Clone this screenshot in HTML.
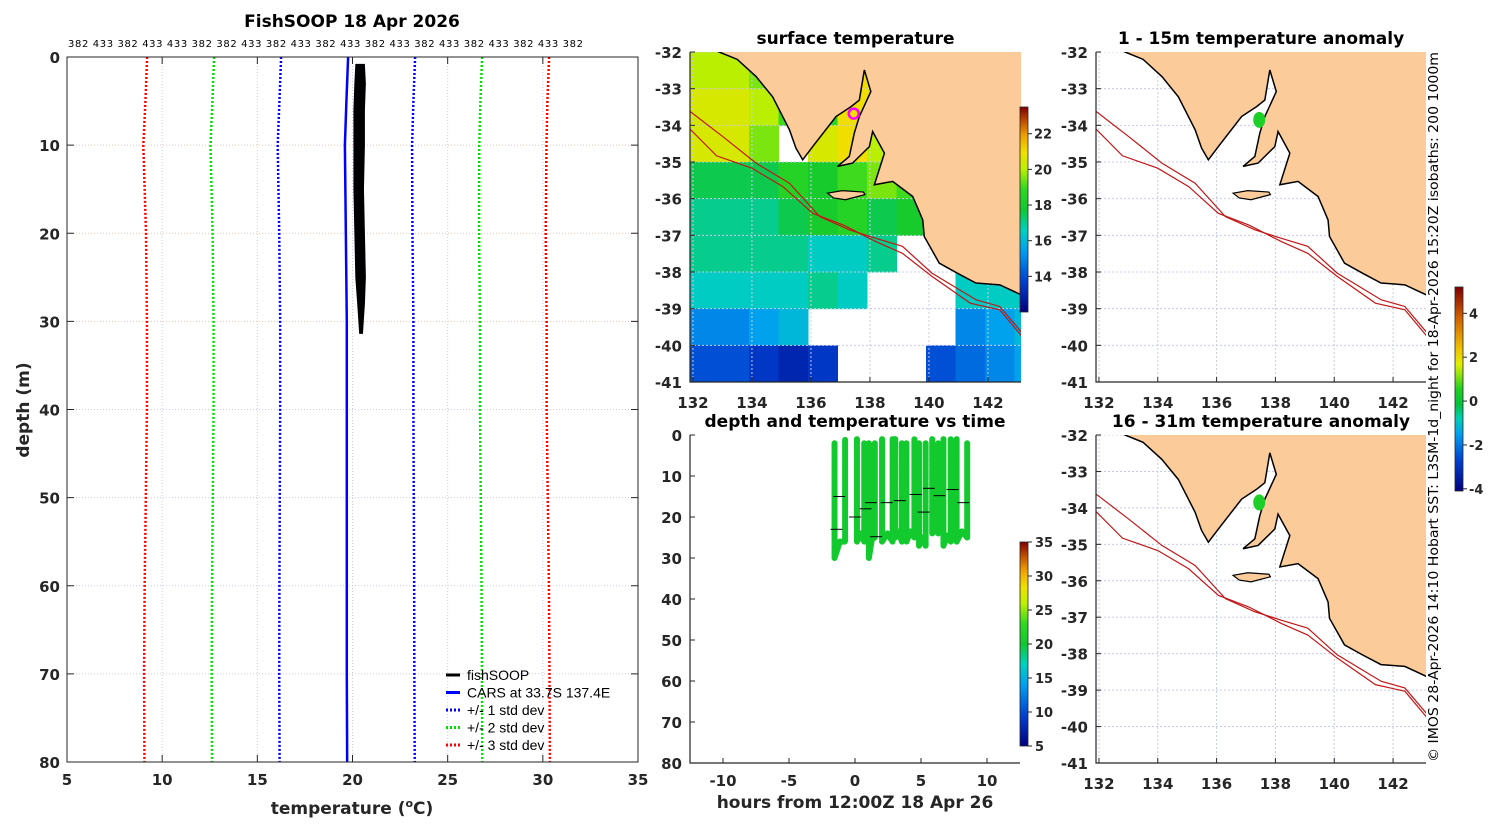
<!DOCTYPE html>
<html><head><meta charset="utf-8"><style>
body{margin:0;background:#fff;}
svg text{font-family:"DejaVu Sans","Liberation Sans",sans-serif;fill:#262626;}
.tk{font-size:15px;font-weight:bold;}
.ttl{font-size:17px;font-weight:bold;fill:#000;}
</style></head><body>
<svg id="fig" xmlns="http://www.w3.org/2000/svg" width="1500" height="820" viewBox="0 0 1500 820">
<defs>
<clipPath id="cpSST"><rect x="690" y="52" width="331" height="330"/></clipPath>
<clipPath id="cpA1"><rect x="1096" y="52" width="330" height="330"/></clipPath>
<clipPath id="cpA2"><rect x="1096" y="435" width="330" height="328"/></clipPath>
<clipPath id="cpL"><rect x="67" y="57" width="571" height="705"/></clipPath>
<linearGradient id="gJet" x1="0" y1="1" x2="0" y2="0">
<stop offset="0" stop-color="#00007f"/><stop offset="0.15" stop-color="#0040d0"/><stop offset="0.3" stop-color="#00a0f0"/><stop offset="0.4" stop-color="#00d0c0"/><stop offset="0.5" stop-color="#10c830"/><stop offset="0.6" stop-color="#30d820"/><stop offset="0.7" stop-color="#c0f000"/><stop offset="0.78" stop-color="#f0e000"/><stop offset="0.86" stop-color="#f0a000"/><stop offset="0.93" stop-color="#c05000"/><stop offset="1" stop-color="#800000"/>
</linearGradient>
<linearGradient id="gAn" x1="0" y1="1" x2="0" y2="0">
<stop offset="0" stop-color="#00007f"/><stop offset="0.15" stop-color="#0040d0"/><stop offset="0.28" stop-color="#00a0f0"/><stop offset="0.36" stop-color="#00d0b0"/><stop offset="0.42" stop-color="#00c040"/><stop offset="0.5" stop-color="#20d020"/><stop offset="0.62" stop-color="#e0f000"/><stop offset="0.7" stop-color="#f0c000"/><stop offset="0.85" stop-color="#d06000"/><stop offset="1" stop-color="#800000"/>
</linearGradient>
</defs>
<g id="gLeft"></g>
<g id="gSST"></g>
<g id="gTime"></g>
<g id="gA1"></g>
<g id="gA2"></g>
<text transform="translate(1438,762) rotate(-90)" style="font-size:13px;fill:#000" textLength="710" lengthAdjust="spacingAndGlyphs">© IMOS 28-Apr-2026 14:10 Hobart SST: L3SM-1d_night for 18-Apr-2026 15:20Z isobaths: 200  1000m</text>
</svg>
<script>
// ---------- data ----------
const cidLabels = "382 433 382 433 433 382 382 433 382 433 382 433 382 433 382 433 382 433 382 433 382";
const carsDepths = [0, 5, 10, 20, 30, 40, 50, 60, 70, 80];
const carsMean = [19.77, 19.68, 19.6, 19.65, 19.7, 19.7, 19.7, 19.7, 19.7, 19.72];
const carsStd = [3.52, 3.52, 3.53, 3.5, 3.5, 3.5, 3.52, 3.54, 3.55, 3.55];
const fsDepth = [0.9, 3, 6, 10, 15, 20, 25, 28, 31.3];
const fsTmin = [20.2, 20.15, 20.1, 20.1, 20.1, 20.15, 20.2, 20.3, 20.4];
const fsTmax = [20.6, 20.65, 20.6, 20.6, 20.55, 20.6, 20.65, 20.6, 20.5];
const tempTicks = [5, 10, 15, 20, 25, 30, 35];
const depthTicks = [0, 10, 20, 30, 40, 50, 60, 70, 80];
const lonTicks = [132, 134, 136, 138, 140, 142];
const latTicks = [-32, -33, -34, -35, -36, -37, -38, -39, -40, -41];
const sstTicks = [14, 16, 18, 20, 22];
const anomTicks = [-4, -2, 0, 2, 4];
const timeTicks = [-10, -5, 0, 5, 10];
const tempCbTicks = [5, 10, 15, 20, 25, 30, 35];
// SST grid, rows lat -32..-41 (1 deg), cols lon 131.9.. (1 deg); null = no data
const sstGrid = [
 [20, 20, 19.5, 19, 18.5, 21, 21, 21, 20, 20, 20, 20],
 [20.5, 20.5, 20, 19, 18.5, 21, 21, 21, 21, 20, 20, 20],
 [20.5, 20.5, 19.5, null, 20.5, 21, 20, 21, 20, 20, 20, 20],
 [17.5, 17.5, 17.5, 18.5, 18, 19, 19.5, 19, 19.5, 18, 18, 18],
 [17, 17, 17, 17.5, 18, 18.5, 17.5, 18, 18, 17, 17, 17],
 [17, 17, 17, 17, 16.5, 16.5, 17, null, null, 17.5, 17, 17],
 [16.5, 16.5, 16.5, 16.5, 17, 16.5, null, null, null, 16.5, 16.5, 16.5],
 [15, 15, 15.5, 16, null, null, null, null, null, 15, 15.5, 16],
 [14, 14, 13.5, 13, 13.5, null, null, null, 14, 14.5, 15, 15.5]
];
const coastLon = [132.6,132.89,133.5,134.14,134.7,135.27,135.49,135.72,136.06,136.85,137.36,137.64,137.81,138.03,137.64,137.47,137.3,136.9,137.41,137.98,138.09,138.49,138.15,138.77,139.45,139.79,139.84,140.35,141.0,141.59,142.4,143.12,143.2,143.2];
const coastLat = [-31.9,-32.0,-32.2,-32.67,-33.22,-34.12,-34.62,-34.94,-34.58,-33.76,-33.49,-33.31,-32.49,-33.08,-33.76,-34.21,-34.85,-35.12,-35.03,-34.58,-34.17,-34.76,-35.62,-35.53,-35.94,-36.58,-37.03,-37.76,-38.05,-38.3,-38.35,-38.62,-38.62,-31.9];
const kiLon = [136.56,137.06,137.78,137.83,137.17,136.77];
const kiLat = [-35.85,-35.78,-35.82,-35.89,-36.03,-35.98];
const iso200Lon = [131.9,133.0,134.14,135.27,136.3,137.3,138.2,139.1,140.1,141.6,142.4,143.2];
const iso200Lat = [-33.62,-34.3,-35.03,-35.58,-36.49,-36.85,-37.08,-37.3,-38.03,-38.76,-38.94,-39.7];
const iso1000Lon = [131.9,132.8,134.0,135.05,136.06,137.1,138.2,139.1,140.1,141.4,142.4,143.2];
const iso1000Lat = [-34.1,-34.83,-35.17,-35.67,-36.4,-36.72,-37.17,-37.49,-38.12,-38.85,-39.03,-39.8];
const vesselLon = 137.45, vesselLat = -33.68;
// each cast pair: down at downTime, drift along bottom, up at upTime
const castDownTime = [-1.55, 0.15, 1.05, 2.05, 3.05, 3.9, 4.85, 5.85, 6.7, 7.7];
const castUpTime = [-0.75, 0.7, 1.5, 2.85, 3.55, 4.5, 5.35, 6.3, 7.25, 8.5];
const castTopDown = [2, 1, 2, 1, 1, 2, 2, 1, 1, 1];
const castTopUp = [1, 2, 2, 1, 2, 1, 2, 2, 1, 2];
const castBottomA = [30, 26, 30, 26, 25, 26, 27, 24, 27, 26];
const castBottomB = [26, 26, 25, 26, 26, 25, 27, 24, 26, 25];
const trkTemp = 20.3;
const dashTime = [-1.2,0,1.2,2.4,3.4,4.6,5.6,6.4,7.4,8.2,-1.4,1.6,0.8,5.2];
const dashDepth = [15,20,16.5,16.5,16,14.5,13,14.8,13.3,16.5,23,24.8,18,18.8];
const anomLon = 137.45, anomLat = -33.85, anomVal = 0.4;

// ---------- helpers ----------
const NS = "http://www.w3.org/2000/svg";
function mk(tag, attrs, parent) { const e = document.createElementNS(NS, tag); for (const k in attrs) e.setAttribute(k, attrs[k]); parent.appendChild(e); return e; }
function txt(s, x, y, cls, anchor, parent) { const t = mk("text", {x: x, y: y, class: cls, "text-anchor": anchor}, parent); t.textContent = s; return t; }
const jetStops = [[0,[0,0,127]],[0.15,[0,64,208]],[0.3,[0,160,240]],[0.4,[0,208,192]],[0.5,[16,200,48]],[0.6,[48,216,32]],[0.7,[192,240,0]],[0.78,[240,224,0]],[0.86,[240,160,0]],[0.93,[192,80,0]],[1,[128,0,0]]];
function jet(t) { t = Math.max(0, Math.min(1, t)); for (let i = 1; i < jetStops.length; i++) { if (t <= jetStops[i][0]) { const a = jetStops[i-1], b = jetStops[i]; const f = (t - a[0]) / (b[0] - a[0]); return "rgb(" + a[1].map((v, j) => Math.round(v + f * (b[1][j] - v))).join(",") + ")"; } } return "rgb(128,0,0)"; }

// ---------- left profile panel ----------
(function () {
  const g = document.getElementById("gLeft");
  const X0 = 67, X1 = 638, Y0 = 57, Y1 = 762;
  const xs = t => X0 + (t - 5) / 30 * (X1 - X0);
  const ys = d => Y0 + d / 80 * (Y1 - Y0);
  const t = txt("FishSOOP 18 Apr 2026", 352, 27, "ttl", "middle", g);
  
  
  const c = txt(cidLabels, 68, 47, "", "start", g);
  c.setAttribute("style", "font-size:10px;fill:#000");
  c.setAttribute("textLength", "515");
  
  
  tempTicks.forEach(v => {
    const l = mk("line", {x1: xs(v), x2: xs(v), y1: Y0, y2: Y1, stroke: "#c8cce8", "stroke-width": 1, "stroke-dasharray": "1,2"}, g);
    
    
    mk("line", {x1: xs(v), x2: xs(v), y1: Y1, y2: Y1 - 7, stroke: "#262626"}, g);
    mk("line", {x1: xs(v), x2: xs(v), y1: Y0, y2: Y0 + 7, stroke: "#262626"}, g);
    const lb = txt(String(v), xs(v), 785, "tk", "middle", g);
    
    
  });
  depthTicks.forEach(v => {
    const l = mk("line", {x1: X0, x2: X1, y1: ys(v), y2: ys(v), stroke: v <= 30 ? "#e8c8b8" : "#c8cce8", "stroke-width": 1, "stroke-dasharray": "1,2"}, g);
    
    
    mk("line", {x1: X0, x2: X0 + 7, y1: ys(v), y2: ys(v), stroke: "#262626"}, g);
    mk("line", {x1: X1, x2: X1 - 7, y1: ys(v), y2: ys(v), stroke: "#262626"}, g);
    const lb = txt(String(v), 60, ys(v) + 6, "tk", "end", g);
    
    
  });
  const cl = mk("g", {"clip-path": "url(#cpL)"}, g);
  const cols = {1: "#0000ff", 2: "#00e000", 3: "#ff0000"};
  [1, 2, 3].forEach(k => {
    [-1, 1].forEach(s => {
      const pts = carsDepths.map((d, i) => xs(carsMean[i] + s * k * carsStd[i]) + "," + ys(d)).join(" ");
      const p = mk("polyline", {points: pts, fill: "none", stroke: cols[k], "stroke-width": 2.5, "stroke-dasharray": "2,2"}, cl);
      
      
    });
  });
  const mp = mk("polyline", {points: carsDepths.map((d, i) => xs(carsMean[i]) + "," + ys(d)).join(" "), fill: "none", stroke: "#0000ff", "stroke-width": 2.5}, cl);
  
  
  const fpts = fsDepth.map((d, i) => xs(fsTmin[i]) + "," + ys(d)).concat(fsDepth.slice().reverse().map((d, i) => xs(fsTmax[fsDepth.length - 1 - i]) + "," + ys(d))).join(" ");
  const fp = mk("polygon", {points: fpts, fill: "#000", stroke: "#000", "stroke-width": 2}, cl);
  
  
  const fr = mk("rect", {x: X0, y: Y0, width: X1 - X0, height: Y1 - Y0, fill: "none", stroke: "#262626", "stroke-width": 1}, g);
  
  
  const yt = txt("depth (m)", 0, 0, "ttl", "middle", g);
  yt.setAttribute("transform", "translate(29,410) rotate(-90)");
  yt.setAttribute("style", "font-size:17px;font-weight:bold;fill:#262626");
  
  
  const xt = mk("text", {x: 352, y: 814, "text-anchor": "middle", style: "font-size:17px;font-weight:bold;fill:#262626"}, g);
  xt.innerHTML = 'temperature (<tspan dy="-7" style="font-size:11px">o</tspan><tspan dy="7">C)</tspan>';
  
  
  const leg = mk("g", {}, g);
  
  
  const items = [["fishSOOP", "#000", null], ["CARS at 33.7S 137.4E", "#0000ff", null], ["+/- 1 std dev", "#0000ff", "2,2"], ["+/- 2 std dev", "#00e000", "2,2"], ["+/- 3 std dev", "#ff0000", "2,2"]];
  items.forEach((it, i) => {
    const y = 675 + i * 17.5;
    const e = mk("g", {}, leg);
    
    
    const a = {x1: 446, x2: 460, y1: y, y2: y, stroke: it[1], "stroke-width": 3};
    if (it[2]) a["stroke-dasharray"] = it[2];
    mk("line", a, e);
    const tt = txt(it[0], 467, y + 5, "", "start", e);
    tt.setAttribute("style", "font-size:14px;font-family:'Liberation Sans',sans-serif;fill:#000");
  });
})();

// ---------- map drawing ----------
function drawMap(gid, clip, X0, Y0, W, H, showSST, title, titleY, cbar) {
  const g = document.getElementById(gid);
  const lon0 = 131.9, lon1 = 143.12;
  const xs = lon => X0 + (lon - lon0) / (lon1 - lon0) * W;
  const ys = lat => Y0 + (-32 - lat) / 9 * H;
  const tt = txt(title, X0 + W / 2, titleY, "ttl", "middle", g);
  
  
  const cg = mk("g", {"clip-path": "url(#" + clip + ")"}, g);
  if (showSST) {
    sstGrid.forEach((row, r) => row.forEach((v, c) => {
      if (v === null) return;
      const cell = mk("rect", {x: xs(131.9 + c), y: ys(-32 - r), width: xs(132.9 + c) - xs(131.9 + c) + 0.5, height: ys(-33 - r) - ys(-32 - r) + 0.5, fill: jet((v - 12) / 11.5)}, cg);
      
      
    }));
  }
  lonTicks.forEach(v => {
    const l = mk("line", {x1: xs(v), x2: xs(v), y1: Y0, y2: Y0 + H, stroke: "#c8cce8", "stroke-dasharray": "2,2"}, cg);
    
    
  });
  latTicks.forEach(v => {
    const l = mk("line", {x1: X0, x2: X0 + W, y1: ys(v), y2: ys(v), stroke: "#c8cce8", "stroke-dasharray": "2,2"}, cg);
    
    
  });
  const land = mk("polygon", {points: coastLon.map((lo, i) => xs(lo) + "," + ys(coastLat[i])).join(" "), fill: "#fccb9a", stroke: "#000", "stroke-width": 1.5}, cg);
  
  
  const ki = mk("polygon", {points: kiLon.map((lo, i) => xs(lo) + "," + ys(kiLat[i])).join(" "), fill: "#fccb9a", stroke: "#000", "stroke-width": 1.2}, cg);
  
  
  [[iso200Lon, iso200Lat, 'isobath-200m'], [iso1000Lon, iso1000Lat, 'isobath-1000m']].forEach(a => {
    const p = mk("polyline", {points: a[0].map((lo, i) => xs(lo) + "," + ys(a[1][i])).join(" "), fill: "none", stroke: "#c01818", "stroke-width": 1.2}, cg);
    
    
  });
  if (showSST) {
    const m = mk("circle", {cx: xs(vesselLon), cy: ys(vesselLat), r: 5, fill: "none", stroke: "#ff00ff", "stroke-width": 2.5}, cg);
    
    
  } else {
    const b = mk("ellipse", {cx: xs(anomLon), cy: ys(anomLat), rx: 6, ry: 8}, cg);
    b.setAttribute('fill', jet((anomVal + 4.1) / 9.3 + 0.06));
    
    
  }
  const fr = mk("path", {d: "M" + X0 + "," + Y0 + " V" + (Y0 + H) + " H" + (X0 + W), fill: "none", stroke: "#262626", "stroke-width": 1.2}, g);
  
  
  lonTicks.forEach(v => {
    mk("line", {x1: xs(v), x2: xs(v), y1: Y0 + H, y2: Y0 + H - 5, stroke: "#262626"}, g);
    const lb = txt(String(v), xs(v), Y0 + H + 26, "tk", "middle", g);
    
    
  });
  latTicks.forEach(v => {
    mk("line", {x1: X0, x2: X0 + 5, y1: ys(v), y2: ys(v), stroke: "#262626"}, g);
    const lb = txt(String(v), X0 - 8, ys(v) + 6, "tk", "end", g);
    
    
  });
  if (cbar) {
    const cb = mk("rect", {x: cbar.x, y: cbar.y0, width: 8, height: cbar.y1 - cbar.y0, fill: "url(#" + cbar.grad + ")", stroke: "#262626", "stroke-width": 0.8}, g);
    
    
    cbar.ticks.forEach(v => {
      const y = cbar.y1 - (v - cbar.min) / (cbar.max - cbar.min) * (cbar.y1 - cbar.y0);
      mk("line", {x1: cbar.x + 8, x2: cbar.x + 12, y1: y, y2: y, stroke: "#262626"}, g);
      const lb = txt(String(v), cbar.x + 14, y + 5, "", "start", g);
      lb.setAttribute("style", "font-size:13px;font-weight:bold");
      
      
    });
  }
}
drawMap("gSST", "cpSST", 690, 52, 331, 330, true, "surface temperature", 44, {x: 1020, y0: 107, y1: 312, min: 12, max: 23.5, ticks: sstTicks, grad: "gJet"});
drawMap("gA1", "cpA1", 1096, 52, 330, 330, false, "1 - 15m temperature anomaly", 44, {x: 1455, y0: 287, y1: 491, min: -4.1, max: 5.2, ticks: anomTicks, grad: "gAn"});
drawMap("gA2", "cpA2", 1096, 435, 330, 328, false, "16 - 31m temperature anomaly", 427, null);

// ---------- depth vs time panel ----------
(function () {
  const g = document.getElementById("gTime");
  const X0 = 690, X1 = 1020, Y0 = 435, Y1 = 763;
  const xs = h => X0 + (h + 12.5) / 25 * (X1 - X0);
  const ys = d => Y0 + d / 80 * (Y1 - Y0);
  const t = txt("depth and temperature vs time", 855, 427, "ttl", "middle", g);
  
  
  const col = jet((trkTemp - 5) / 30);
  let d = "";
  castDownTime.forEach((h, i) => {
    d += "M" + xs(h) + "," + ys(castTopDown[i]) + " L" + xs(h) + "," + ys(castBottomA[i]) +
      " L" + xs((h + castUpTime[i]) / 2) + "," + ys((castBottomA[i] + castBottomB[i]) / 2 - 2) +
      " L" + xs(castUpTime[i]) + "," + ys(castBottomB[i]) + " L" + xs(castUpTime[i]) + "," + ys(castTopUp[i]) + " ";
  });
  const tr = mk("path", {d: d, fill: "none", stroke: col, "stroke-width": 6, "stroke-linejoin": "round", "stroke-linecap": "round", "stroke-dasharray": "5,1"}, g);
  
  
  dashTime.forEach((h, i) => {
    const dl = mk("line", {x1: xs(h) - 6, x2: xs(h) + 6, y1: ys(dashDepth[i]), y2: ys(dashDepth[i]), stroke: "#000", "stroke-width": 1}, g);
    
    
  });
  const fr = mk("path", {d: "M" + X0 + "," + Y0 + " V" + Y1 + " H" + X1, fill: "none", stroke: "#262626", "stroke-width": 1.2}, g);
  
  
  timeTicks.forEach(v => {
    mk("line", {x1: xs(v), x2: xs(v), y1: Y1, y2: Y1 - 5, stroke: "#262626"}, g);
    const lb = txt(String(v), xs(v), 786, "tk", "middle", g);
    
    
  });
  depthTicks.forEach(v => {
    mk("line", {x1: X0, x2: X0 + 5, y1: ys(v), y2: ys(v), stroke: "#262626"}, g);
    const lb = txt(String(v), X0 - 8, ys(v) + 6, "tk", "end", g);
    
    
  });
  const xt = txt("hours from 12:00Z 18 Apr 26", 855, 808, "ttl", "middle", g);
  xt.setAttribute("style", "font-size:17px;font-weight:bold;fill:#262626");
  
  
  const cy0 = 542, cy1 = 746, cx = 1020;
  const cb = mk("rect", {x: cx, y: cy0, width: 8, height: cy1 - cy0, fill: "url(#gJet)", stroke: "#262626", "stroke-width": 0.8}, g);
  
  
  tempCbTicks.forEach(v => {
    const y = cy1 - (v - 5) / 30 * (cy1 - cy0);
    mk("line", {x1: cx + 8, x2: cx + 12, y1: y, y2: y, stroke: "#262626"}, g);
    const lb = txt(String(v), cx + 15, y + 5, "", "start", g);
    lb.setAttribute("style", "font-size:13px;font-weight:bold");
    
    
  });
})();
</script>
</body></html>
